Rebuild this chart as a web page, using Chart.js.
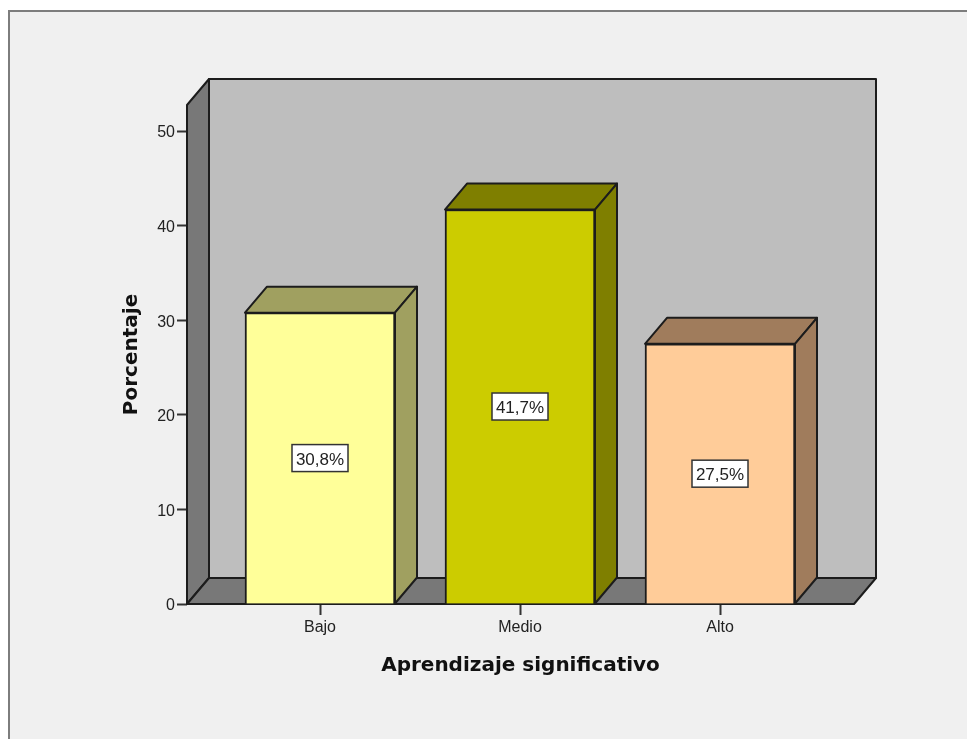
<!DOCTYPE html>
<html>
<head>
<meta charset="utf-8">
<title>Aprendizaje significativo</title>
<script src="https://cdn.jsdelivr.net/npm/chart.js@4/dist/chart.umd.min.js"></script>
<style>
    html, body { margin: 0; padding: 0; background: #fff; overflow: hidden; }
    canvas { display: block; }
</style>
</head>
<body>
<canvas id="chart" width="967" height="739"></canvas>
<script>
// Data
const categories = ['Bajo', 'Medio', 'Alto'];
const percentages = [30.8, 41.7, 27.5];
const valueLabels = ['30,8%', '41,7%', '27,5%'];
const yTicks = [0, 10, 20, 30, 40, 50];

const barColors = ['#ffff99', '#cccc00', '#ffcc99'];
const barShades = ['#a0a060', '#7f7f00', '#a07c5c'];

// 3D look: how far the back wall is moved from the front plane
const DEPTH_X = 22;
const DEPTH_Y = -26;
const LINE = '#1c1c1c';

function poly(ctx, pts, fill) {
    ctx.beginPath();
    pts.forEach((p, i) => i ? ctx.lineTo(p[0], p[1]) : ctx.moveTo(p[0], p[1]));
    ctx.closePath();
    ctx.fillStyle = fill;
    ctx.fill();
    ctx.stroke();
}

const framePlugin = {
    id: 'frame',
    beforeDraw(chart) {
        const ctx = chart.ctx;
        ctx.save();
        ctx.fillStyle = '#f0f0f0';
        ctx.fillRect(9, 12, chart.width - 9, chart.height - 12);
        ctx.strokeStyle = '#7d7d7d';
        ctx.lineWidth = 2;
        ctx.beginPath();
        ctx.moveTo(9, chart.height);
        ctx.lineTo(9, 11);
        ctx.lineTo(chart.width, 11);
        ctx.stroke();
        ctx.restore();
    }
};

const box3dPlugin = {
    id: 'box3d',
    beforeDatasetsDraw(chart) {
        const ctx = chart.ctx;
        const { left, right, top, bottom } = chart.chartArea;
        const dx = DEPTH_X, dy = DEPTH_Y;
        ctx.save();
        ctx.strokeStyle = LINE;
        ctx.lineWidth = 2;
        ctx.lineJoin = 'round';

        // back wall, left wall, floor
        poly(ctx, [[left + dx, top + dy], [right + dx, top + dy], [right + dx, bottom + dy], [left + dx, bottom + dy]], '#bebebe');
        poly(ctx, [[left, top], [left + dx, top + dy], [left + dx, bottom + dy], [left, bottom]], '#787878');
        poly(ctx, [[left, bottom], [left + dx, bottom + dy], [right + dx, bottom + dy], [right, bottom]], '#787878');

        // top and side faces of each bar
        chart.getDatasetMeta(0).data.forEach((bar, i) => {
            const l = bar.x - bar.width / 2;
            const r = bar.x + bar.width / 2;
            const t = bar.y;
            const b = bar.base;
            poly(ctx, [[l, t], [l + dx, t + dy], [r + dx, t + dy], [r, t]], barShades[i]);
            poly(ctx, [[r, t], [r + dx, t + dy], [r + dx, b + dy], [r, b]], barShades[i]);
        });
        ctx.restore();
    },
    afterDatasetsDraw(chart) {
        const ctx = chart.ctx;
        ctx.save();
        // value boxes in the middle of each bar
        chart.getDatasetMeta(0).data.forEach((bar, i) => {
            const cx = bar.x;
            const cy = (bar.y + bar.base) / 2;
            const w = 56, h = 27;
            ctx.fillStyle = '#fff';
            ctx.strokeStyle = '#333';
            ctx.lineWidth = 1.5;
            ctx.fillRect(cx - w / 2, cy - h / 2, w, h);
            ctx.strokeRect(cx - w / 2, cy - h / 2, w, h);
            ctx.fillStyle = '#222';
            ctx.font = '17px "Liberation Sans"';
            ctx.textAlign = 'center';
            ctx.textBaseline = 'middle';
            ctx.fillText(valueLabels[i], cx, cy + 2);
        });
        ctx.restore();
    }
};

new Chart(document.getElementById('chart').getContext('2d'), {
    type: 'bar',
    data: {
        datasets: [{
            data: categories.map((c, i) => ({ x: i + 1, y: percentages[i] })),
            backgroundColor: barColors,
            borderColor: LINE,
            borderWidth: 2,
            barThickness: 150
        }]
    },
    plugins: [framePlugin, box3dPlugin],
    options: {
        responsive: false,
        animation: false,
        layout: { padding: { left: 0, right: 113, top: 105, bottom: 0 } },
        plugins: { legend: { display: false }, tooltip: { enabled: false } },
        scales: {
            x: {
                type: 'linear',
                offset: false,
                min: 0.335,
                max: 3.67,
                afterFit: s => { s.height = 135; },
                afterBuildTicks: s => { s.ticks = categories.map((c, i) => ({ value: i + 1 })); },
                grid: { offset: false, drawOnChartArea: false, drawTicks: true, tickLength: 11, tickColor: '#333', tickWidth: 2 },
                border: { display: false },
                ticks: {
                    autoSkip: false,
                    maxRotation: 0,
                    padding: 3,
                    color: '#222',
                    font: { family: '"Liberation Sans"', size: 16 },
                    callback: v => categories[v - 1]
                },
                title: {
                    display: true,
                    text: 'Aprendizaje significativo',
                    color: '#111',
                    font: { family: '"DejaVu Sans"', size: 20, weight: 'bold' },
                    padding: { top: 8, bottom: 61 }
                }
            },
            y: {
                min: 0,
                max: 52.75,
                afterFit: s => { s.width = 187; },
                afterBuildTicks: s => { s.ticks = yTicks.map(v => ({ value: v })); },
                grid: { drawOnChartArea: false, drawTicks: true, tickLength: 10, tickColor: '#333', tickWidth: 2 },
                border: { display: false },
                ticks: {
                    padding: 2,
                    labelOffset: 2,
                    color: '#222',
                    font: { family: '"Liberation Sans"', size: 16 }
                },
                title: {
                    display: true,
                    text: 'Porcentaje',
                    color: '#111',
                    font: { family: '"DejaVu Sans"', size: 20, weight: 'bold' },
                    padding: { top: 120, bottom: 0 }
                }
            }
        }
    }
});
</script>
</body>
</html>
